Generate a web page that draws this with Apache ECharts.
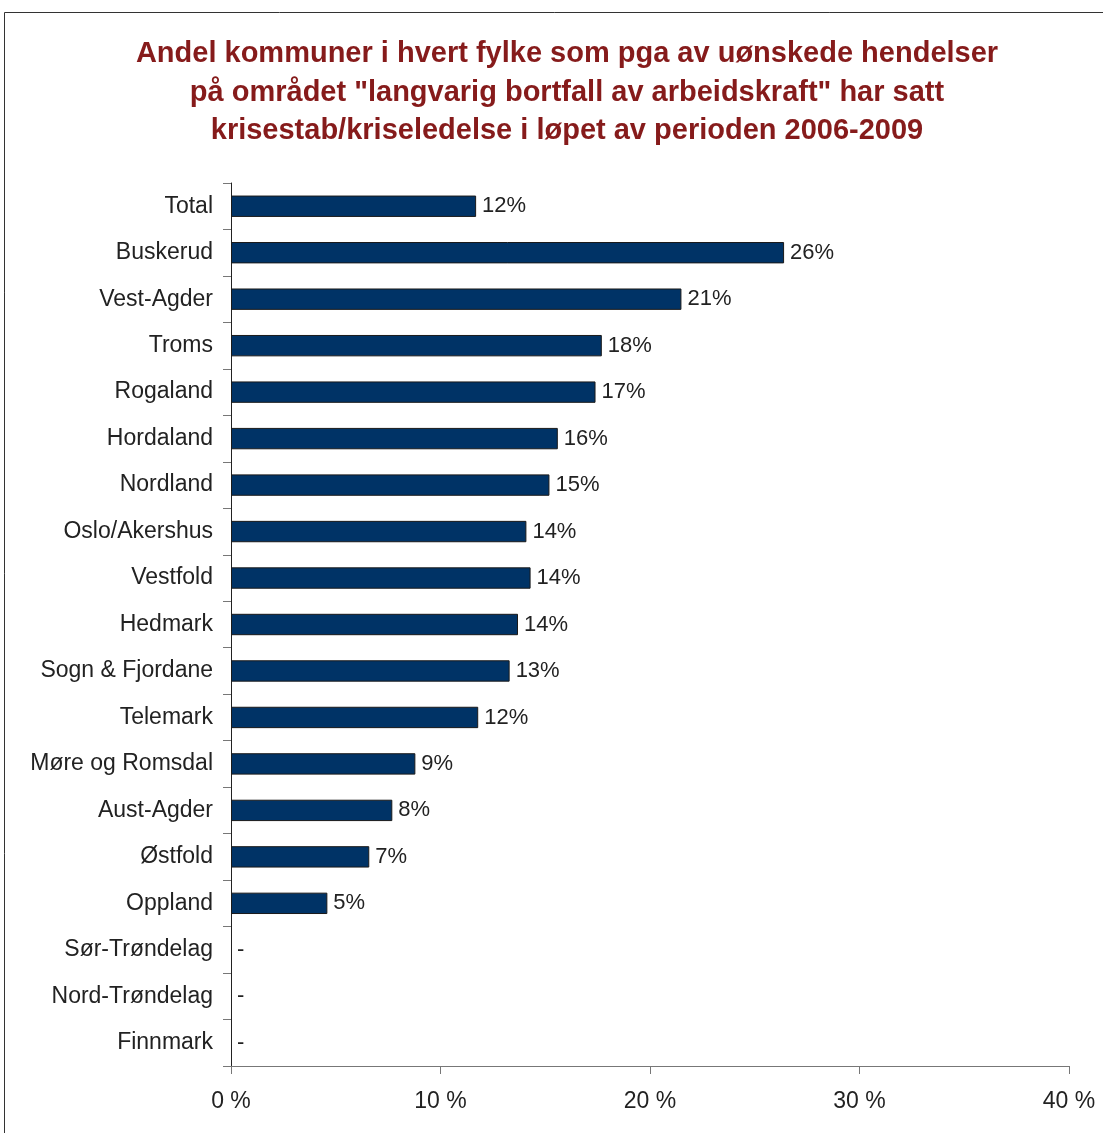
<!DOCTYPE html>
<html>
<head>
<meta charset="utf-8">
<script src="https://cdn.jsdelivr.net/npm/echarts@6/dist/echarts.min.js"></script>
<style>
  html, body { margin: 0; padding: 0; background: #fff; }
  #chart { width: 1103px; height: 1133px; }
</style>
</head>
<body>
<div id="chart"></div>
<script>
// fylker, top to bottom
const categories = ['Total', 'Buskerud', 'Vest-Agder', 'Troms', 'Rogaland', 'Hordaland', 'Nordland',
  'Oslo/Akershus', 'Vestfold', 'Hedmark', 'Sogn & Fjordane', 'Telemark', 'Møre og Romsdal',
  'Aust-Agder', 'Østfold', 'Oppland', 'Sør-Trøndelag', 'Nord-Trøndelag', 'Finnmark'];
// andel (%)
const values = [11.7, 26.4, 21.5, 17.7, 17.4, 15.6, 15.2, 14.1, 14.3, 13.7, 13.3, 11.8, 8.8, 7.7, 6.6, 4.6, 0, 0, 0];
// printed labels
const labels = ['12%', '26%', '21%', '18%', '17%', '16%', '15%', '14%', '14%', '14%', '13%', '12%',
  '9%', '8%', '7%', '5%', '-', '-', '-'];
const xTicks = [0, 10, 20, 30, 40];

const font = '"Liberation Sans", Arial, sans-serif';

let myChart = echarts.init(document.getElementById('chart'));
myChart.setOption({
    backgroundColor: '#fff',
    animation: false,
    title: {
        text: 'Andel kommuner i hvert fylke som pga av uønskede hendelser\npå området "langvarig bortfall av arbeidskraft" har satt\nkrisestab/kriseledelse i løpet av perioden 2006-2009',
        left: 562,
        textAlign: 'center',
        top: 30,
        textStyle: {
            color: '#861b1b',
            fontFamily: font,
            fontWeight: 'bold',
            fontSize: 29,
            lineHeight: 38.5
        }
    },
    graphic: [{
        type: 'polyline',
        shape: {points: [[4.5, 1140], [4.5, 12.5], [1110, 12.5]]},
        style: {stroke: '#333', lineWidth: 1, fill: null}
    }],
    grid: {left: 231, right: 34, top: 183, bottom: 67},
    xAxis: {
        type: 'value',
        min: xTicks[0],
        max: xTicks[xTicks.length - 1],
        interval: 10,
        splitLine: {show: false},
        axisLine: {show: true, lineStyle: {color: '#777'}},
        axisTick: {show: true, length: 8, lineStyle: {color: '#777'}},
        axisLabel: {
            formatter: v => v + ' %',
            color: '#222',
            fontFamily: font,
            fontSize: 23,
            margin: 24
        }
    },
    yAxis: {
        type: 'category',
        data: categories,
        inverse: true,
        axisLine: {show: true, lineStyle: {color: '#222'}},
        axisTick: {show: true, length: 8, lineStyle: {color: '#777'}},
        axisLabel: {
            color: '#222',
            fontFamily: font,
            fontSize: 23,
            margin: 18,
            padding: [6, 0, 0, 0]
        }
    },
    series: [{
        type: 'bar',
        data: values.map(v => v === 0 ? {value: v, itemStyle: {color: 'transparent', borderWidth: 0}} : v),
        barCategoryGap: '54%',
        itemStyle: {color: '#003366', borderColor: '#1a1a1a', borderWidth: 1},
        label: {
            show: true,
            position: 'right',
            distance: 6,
            formatter: p => labels[p.dataIndex],
            color: '#222',
            fontFamily: font,
            fontSize: 22
        }
    }]
});
</script>
</body>
</html>
